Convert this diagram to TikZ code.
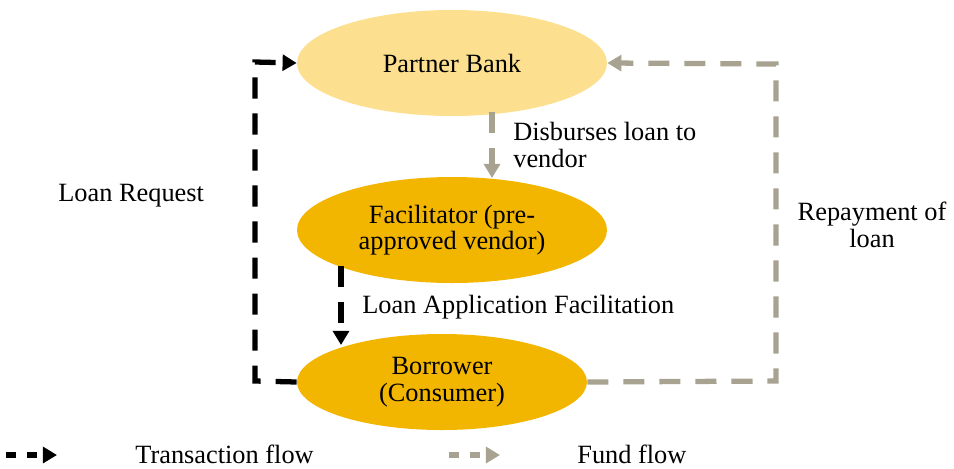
\documentclass[tikz,border=0pt]{standalone}
\usepackage{fontspec}
\setmainfont{Liberation Serif}
\usetikzlibrary{shapes.geometric,arrows.meta}
\definecolor{bankfill}{HTML}{FCE08F}
\definecolor{goldfill}{HTML}{F2B500}
\definecolor{fundgray}{HTML}{A8A291}
\begin{document}
\begin{tikzpicture}[x=0.02cm,y=-0.02cm,
  ell/.style={ellipse,inner sep=0pt,align=center,font=\fontsize{15}{15}\selectfont},
  lbl/.style={inner sep=0pt,align=left,font=\fontsize{15}{15}\selectfont},
  flowline/.style={line width=3pt,dash pattern=on 12pt off 8.5pt,-{Triangle[length=8pt,width=9pt]}},
  txflow/.style={flowline,black},
  fundflow/.style={flowline,fundgray},
  legdash/.style={dash pattern=on 5.7pt off 6.2pt}]
\useasboundingbox (0,0) rectangle (954,468);
\node[ell,fill=bankfill,minimum width=310*0.02cm,minimum height=106*0.02cm] (bank) at (452,63) {Partner Bank};
\node[ell,fill=goldfill,minimum width=310*0.02cm,minimum height=106*0.02cm] (fac) at (452,230) {Facilitator (pre-\\approved vendor)};
\node[ell,fill=goldfill,minimum width=290*0.02cm,minimum height=96*0.02cm] (bor) at (442,382) {Borrower\\(Consumer)};
% labels
\node[lbl,anchor=west] (disb) at (513,145) {Disburses loan to\\vendor};
\node[lbl,anchor=west] (lreq) at (58,196) {Loan Request};
\node[lbl,align=center] (rep) at (872,225) {Repayment of\\loan};
\node[lbl,anchor=west] (laf) at (362,307) {Loan Application Facilitation};
% coordinates
\coordinate (c1) at (255,381);
\coordinate (c2) at (255,62);
\coordinate (c3) at (776,381);
\coordinate (c4) at (776,64);
\coordinate (facb) at (341,266);
\coordinate (bort) at (341,345);
\coordinate (bankb) at (492,112);
\coordinate (fact) at (492,178);
% connectors
\draw[txflow] (bor.west) -- (c1) -- (c2) -- (bank.west);
\draw[txflow] (facb) -- (bort);
\draw[fundflow] (bankb) -- (fact);
\draw[fundflow] (bor.east) -- (c3) -- (c4) -- (bank.east);
% legend
\coordinate (t1) at (6,455);
\coordinate (t2) at (57,455);
\coordinate (f1) at (449,455);
\coordinate (f2) at (500,455);
\draw[txflow,legdash] (t1) -- (t2);
\draw[fundflow,legdash] (f1) -- (f2);
\node[lbl,anchor=west] (tl) at (135,454) {Transaction flow};
\node[lbl,anchor=west] (fl) at (577,454) {Fund flow};
\end{tikzpicture}
\end{document}
